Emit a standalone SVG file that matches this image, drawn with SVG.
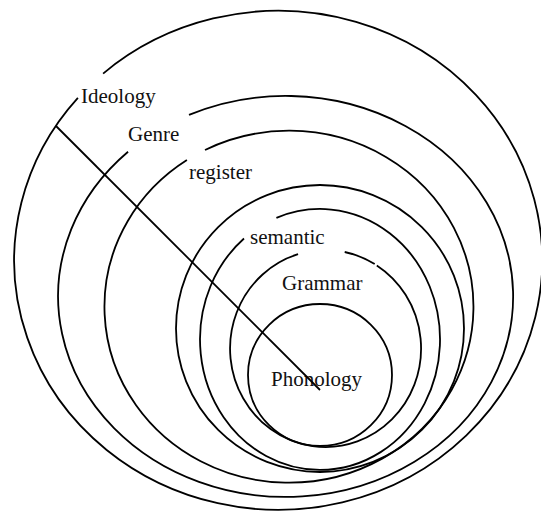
<svg xmlns="http://www.w3.org/2000/svg" width="541" height="512" viewBox="0 0 541 512">
  <style>
    .ring { fill: none; stroke: #000; stroke-width: 1.8; }
    .label { font-family: "Liberation Serif", "Times New Roman", serif; font-size: 21px; fill: #111; }
    .link { stroke: #000; stroke-width: 1.8; fill: none; }
  </style>
  <rect width="541" height="512" fill="#fff"/>

  <!-- nested levels, outermost first -->
  <g id="ideology">
    <path class="ring" d="M 103.1 73.6 A 264 249.5 0 1 1 77.9 97.8"/>
    <text class="label" x="81" y="103">Ideology</text>
  </g>
  <g id="genre">
    <path class="ring" d="M 189 114.9 A 227.5 200.5 0 1 1 128.05 151.8"/>
    <text class="label" x="128" y="141">Genre</text>
  </g>
  <g id="register">
    <path class="ring" d="M 205 150 A 184.5 176 0 1 1 186.9 160.1"/>
    <text class="label" x="189" y="179">register</text>
  </g>
  <g id="context">
    <ellipse class="ring" cx="320" cy="328.5" rx="144" ry="143.5"/>
  </g>
  <g id="semantic">
    <path class="ring" d="M 276.4 217.9 A 120 130.5 0 1 1 244 238.5"/>
    <text class="label" x="250" y="244">semantic</text>
  </g>
  <g id="grammar">
    <path class="ring" d="M 344.7 252 A 95.5 98.5 0 0 1 374.7 264.1 M 376.8 265.4 A 95.5 98.5 0 1 1 298.05 254.2"/>
    <text class="label" x="282" y="290">Grammar</text>
  </g>
  <g id="phonology">
    <ellipse class="ring" cx="320" cy="375" rx="72" ry="71"/>
    <text class="label" x="271" y="386">Phonology</text>
  </g>

  <g id="connectors">
    <line class="link" x1="56" y1="126" x2="320" y2="390"/>
  </g>
</svg>
